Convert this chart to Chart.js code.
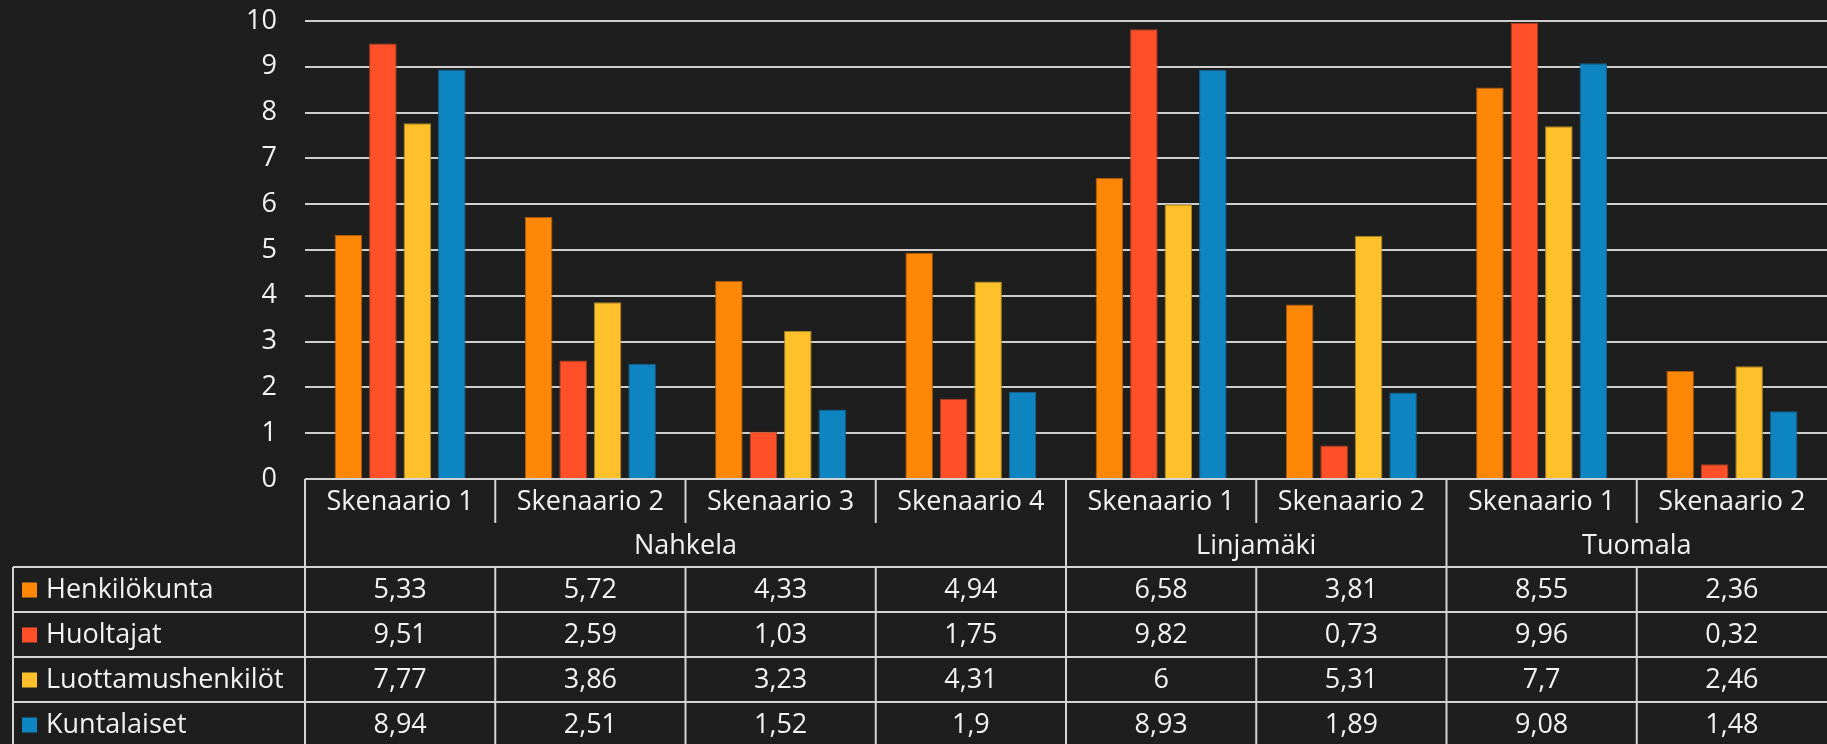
<!DOCTYPE html>
<html>
<head>
<meta charset="utf-8">
<script src="https://cdn.jsdelivr.net/npm/chart.js@4/dist/chart.umd.min.js"></script>
<style>
  html, body { margin: 0; padding: 0; background: #1e1e1e; }
  canvas { display: block; }
</style>
</head>
<body>
<canvas id="myChart" width="1827" height="744"></canvas>
<script>
// data
const categories = ['Skenaario 1', 'Skenaario 2', 'Skenaario 3', 'Skenaario 4', 'Skenaario 1', 'Skenaario 2', 'Skenaario 1', 'Skenaario 2'];
const groups = ['Nahkela', 'Linjamäki', 'Tuomala'];
const groupSizes = [4, 2, 2];
const yTicks = [0, 1, 2, 3, 4, 5, 6, 7, 8, 9, 10];

const seriesNames = ['Henkilökunta', 'Huoltajat', 'Luottamushenkilöt', 'Kuntalaiset'];
const henkilokunta = [5.33, 5.72, 4.33, 4.94, 6.58, 3.81, 8.55, 2.36];
const huoltajat = [9.51, 2.59, 1.03, 1.75, 9.82, 0.73, 9.96, 0.32];
const luottamushenkilot = [7.77, 3.86, 3.23, 4.31, 6, 5.31, 7.7, 2.46];
const kuntalaiset = [8.94, 2.51, 1.52, 1.9, 8.93, 1.89, 9.08, 1.48];

const fillColors = ['#ff8708', '#ff5029', '#ffc12a', '#0e85c0'];
const edgeColors = ['#a85a10', '#a8401f', '#a8842a', '#145f88'];
const textColor = '#f2f2f2';
const lineColor = '#d4d4d4';
const fontFamily = '"Open Sans", sans-serif';
const fontSize = 27;

function fmt(v) {
    return String(v).replace('.', ',');
}

const allSeries = [henkilokunta, huoltajat, luottamushenkilot, kuntalaiset];

// draws the data table under the plot, aligned to the x scale
const tablePlugin = {
    id: 'dataTable',
    afterDraw(chart) {
        const ctx = chart.ctx;
        const xs = chart.scales.x;
        const area = chart.chartArea;
        const step = xs.width / categories.length;
        const edge = i => xs.getPixelForValue(i) - step / 2;
        const right = chart.width;
        const top = area.bottom;
        const catH = 44, grpH = 44, rowH = 45;
        const legendLeft = 13;
        const dataTop = top + catH + grpH;

        ctx.save();
        ctx.strokeStyle = lineColor;
        ctx.lineWidth = 2;
        ctx.fillStyle = textColor;
        ctx.font = fontSize + 'px ' + fontFamily;
        ctx.textBaseline = 'middle';

        function line(x1, y1, x2, y2) {
            ctx.beginPath();
            ctx.moveTo(x1, y1);
            ctx.lineTo(x2, y2);
            ctx.stroke();
        }

        // horizontal lines
        line(area.left, top, right, top);
        for (let r = 0; r < allSeries.length; r++) {
            line(legendLeft, dataTop + r * rowH, right, dataTop + r * rowH);
        }

        // group boundaries
        const groupEdges = [0];
        groupSizes.forEach(s => groupEdges.push(groupEdges[groupEdges.length - 1] + s));

        // vertical lines
        const bottom = chart.height;
        line(area.left, top, area.left, bottom);
        line(legendLeft, dataTop, legendLeft, bottom);
        for (let i = 1; i < categories.length; i++) {
            const x = edge(i);
            if (groupEdges.includes(i)) {
                line(x, top, x, bottom);
            } else {
                line(x, top, x, top + catH);
                line(x, dataTop, x, bottom);
            }
        }

        // category labels
        ctx.textAlign = 'center';
        categories.forEach((c, i) => {
            ctx.fillText(c, xs.getPixelForValue(i), top + catH / 2 + 1);
        });

        // group labels
        groups.forEach((g, gi) => {
            const x1 = edge(groupEdges[gi]);
            const x2 = gi + 1 < groups.length ? edge(groupEdges[gi + 1]) : area.right;
            ctx.fillText(g, (x1 + x2) / 2, top + catH + grpH / 2 + 1);
        });

        // data rows
        allSeries.forEach((vals, r) => {
            const yMid = dataTop + r * rowH + rowH / 2 + 1;
            ctx.fillStyle = fillColors[r];
            ctx.fillRect(legendLeft + 9, yMid - 8, 15, 15);
            ctx.fillStyle = textColor;
            ctx.textAlign = 'left';
            ctx.fillText(seriesNames[r], legendLeft + 33, yMid);
            ctx.textAlign = 'center';
            vals.forEach((v, i) => {
                ctx.fillText(fmt(v), xs.getPixelForValue(i), yMid);
            });
        });
        ctx.restore();
    }
};

const ctx = document.getElementById('myChart');
const myChart = new Chart(ctx, {
    type: 'bar',
    data: {
        labels: categories,
        datasets: seriesNames.map((name, i) => ({
            label: name,
            data: allSeries[i],
            backgroundColor: fillColors[i],
            borderColor: edgeColors[i],
            borderWidth: 1,
            categoryPercentage: 0.725,
            barPercentage: 0.8
        }))
    },
    options: {
        responsive: false,
        devicePixelRatio: 1,
        animation: false,
        layout: {
            padding: { top: 21, bottom: 265, left: 0, right: 0 }
        },
        plugins: {
            legend: { display: false },
            tooltip: { enabled: false }
        },
        scales: {
            x: {
                display: false
            },
            y: {
                min: 0,
                max: 10,
                afterBuildTicks: scale => {
                    scale.ticks = yTicks.map(v => ({ value: v }));
                },
                afterFit: scale => {
                    scale.width = 305;
                    scale.paddingTop = 0;
                    scale.paddingBottom = 0;
                },
                border: { display: false },
                grid: {
                    color: '#cfcfcf',
                    lineWidth: 2,
                    drawTicks: false
                },
                ticks: {
                    color: textColor,
                    padding: 28,
                    font: { family: fontFamily, size: fontSize }
                }
            }
        }
    },
    plugins: [tablePlugin]
});
</script>
</body>
</html>
